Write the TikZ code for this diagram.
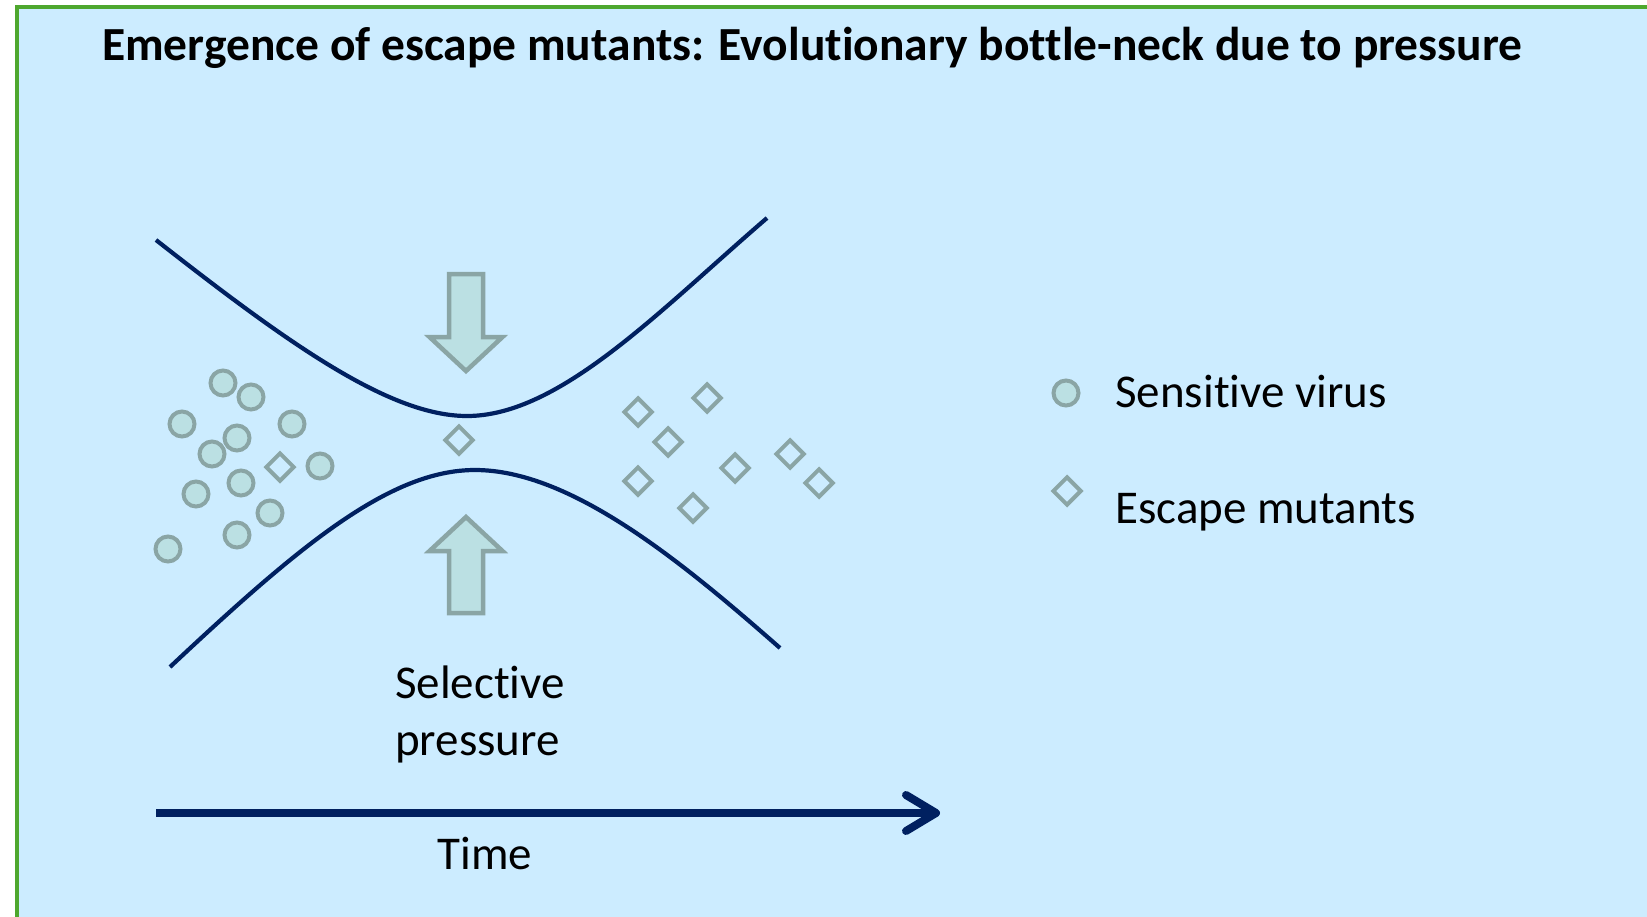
\documentclass[tikz,border=0pt]{standalone}
\usepackage{fontspec}
\setmainfont{Carlito}[Ligatures=NoCommon]
\usetikzlibrary{shapes.geometric,arrows.meta}

\definecolor{panelblue}{HTML}{CCECFF}
\definecolor{framegreen}{HTML}{4EA72E}
\definecolor{navyline}{HTML}{002060}
\definecolor{tealfill}{HTML}{BBE0E3}
\definecolor{tealline}{HTML}{8AA5A5}

\begin{document}
\begin{tikzpicture}[
            x=1pt, y=-1pt,
            virus/.style={draw=tealline, fill=tealfill, circle, line width=4pt, minimum size=25pt, inner sep=0pt},
            mutant/.style={draw=tealline, diamond, line width=4pt, minimum size=29pt, inner sep=0pt},
            label/.style={font=\fontsize{47}{57}\selectfont, inner sep=0pt},
            squeeze/.style={draw=tealline, fill=tealfill, line width=4.5pt},
            neck/.style={draw=navyline, line width=4.2pt}
        ]
            \clip (0,0) rectangle (1647,916);
            \fill[white] (0,0) rectangle (1647,916);

            % Panel
            \draw[framegreen, fill=panelblue, line width=4pt] (17,6.5) rectangle (1680,950);

            % Title
            \node[anchor=base west, inner sep=0pt, font=\fontsize{47.5}{57}\selectfont\bfseries] (title) at (102,60)
                {Emergence of escape mutants: Evolutionary bottle-neck due to pressure};

            % Bottle-neck
            \draw[neck] (156,240) .. controls (290,345) and (390,416) .. (467,416)
                .. controls (560,416) and (660,310) .. (767,218);
            \draw[neck] (170,667) .. controls (300,545) and (390,470) .. (475,470)
                .. controls (570,470) and (680,560) .. (780,648);

            % Pressure arrows
            \draw[squeeze] (449,274) -- (483,274) -- (483,337) -- (502.5,337) -- (466,371)
                -- (429.5,337) -- (449,337) -- cycle;
            \draw[squeeze] (449,613) -- (483,613) -- (483,551) -- (502.5,551) -- (466,517)
                -- (429.5,551) -- (449,551) -- cycle;

            % Sensitive viruses
            \node[virus] (v1) at (223,383) {};
            \node[virus] (v2) at (251,397) {};
            \node[virus] (v3) at (182,424) {};
            \node[virus] (v4) at (292,424) {};
            \node[virus] (v5) at (237,438) {};
            \node[virus] (v6) at (212,454) {};
            \node[virus] (v7) at (320,466) {};
            \node[virus] (v8) at (241,483) {};
            \node[virus] (v9) at (196,494) {};
            \node[virus] (v10) at (270,513) {};
            \node[virus] (v11) at (237,535) {};
            \node[virus] (v12) at (168,549) {};

            % Escape mutants
            \node[mutant] (m1) at (280,467) {};
            \node[mutant] (m2) at (459,440) {};
            \node[mutant] (m3) at (638,412) {};
            \node[mutant] (m4) at (707,398) {};
            \node[mutant] (m5) at (668,442) {};
            \node[mutant] (m6) at (790,454) {};
            \node[mutant] (m7) at (735,468) {};
            \node[mutant] (m8) at (638,481) {};
            \node[mutant] (m9) at (819,483) {};
            \node[mutant] (m10) at (693,508) {};

            % Label under the arrows
            \node[label, anchor=base west, align=left] (sel) at (395,755)
                {Selective\\pressure};

            % Time axis
            \coordinate (t0) at (156,813);
            \coordinate (t1) at (940,813);
            \draw[navyline, line width=8pt, -{Straight Barb[length=30pt, width=36pt, round]}] (t0) -- (t1);
            \node[label, anchor=base] (time) at (485,869) {Time};

            % Legend
            \node[virus] (keyv) at (1066,393) {};
            \node[mutant] (keym) at (1067,491) {};
            \node[label, anchor=base west] (keyvtext) at (1115,407) {Sensitive virus};
            \node[label, anchor=base west] (keymtext) at (1115,523) {Escape mutants};
        \end{tikzpicture}
\end{document}
